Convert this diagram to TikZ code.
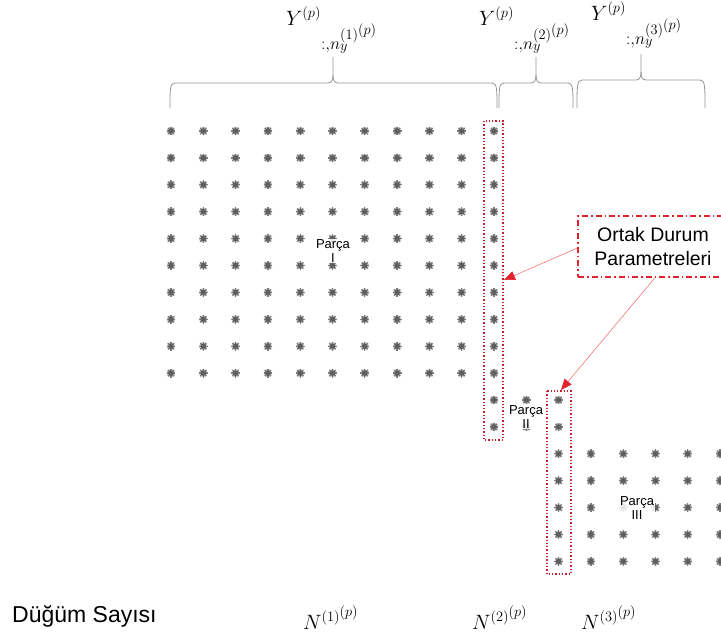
\documentclass[tikz,border=0pt]{standalone}
\usepackage{fontspec}
\setmainfont{Liberation Sans}
\usetikzlibrary{arrows.meta}

\definecolor{dotgray}{RGB}{95,95,95}
\definecolor{halogray}{RGB}{200,200,200}
\definecolor{bracegray}{RGB}{150,150,150}
\definecolor{markred}{RGB}{200,30,45}
\definecolor{calloutred}{RGB}{225,35,45}
\definecolor{linkred}{RGB}{240,120,120}

\tikzset{
  gridpt/.pic={
    \fill[halogray] (0,0) circle (4.3);
    \foreach \a in {0,45,90,135}{\draw[dotgray!80,line width=1.3] (\a:4.4) -- (\a+180:4.4);}
    \fill[dotgray] (0,0) circle (2.8);
  },
  curly/.style={draw=bracegray, line width=0.8},
  sharedbox/.style={draw=markred, dotted, line width=1.3},
  calloutbox/.style={draw=calloutred, line width=1.3,
    dash pattern=on 6pt off 3pt on 1.5pt off 3pt,
    minimum width=150, minimum height=61, align=center,
    font=\fontsize{19.5}{23.5}\selectfont},
  link/.style={draw=linkred, line width=0.6,
    -{Triangle[length=11pt,width=9pt,color=calloutred,fill=calloutred]}},
  partlabel/.style={font=\fontsize{13}{13.5}\selectfont, align=center,
    fill=white, fill opacity=0.85, text opacity=1, inner sep=1.2},
  mathlabel/.style={anchor=base west, inner sep=0},
}

% curly bracket over a block: left x, tip x, right x, level y
\newcommand\curlyover[4]{%
  \draw[curly] (#1,108) .. controls (#1,#4+6) and (#1,#4) .. (#1+5,#4)
    -- (#2-5,#4) .. controls (#2-1,#4) and (#2,#4-3) .. (#2,#4-10) -- (#2,#4-26)
    -- (#2,#4-10) .. controls (#2,#4-3) and (#2+1,#4) .. (#2+5,#4)
    -- (#3-5,#4) .. controls (#3,#4) and (#3,#4+6) .. (#3,108);}

% column block label Y^{(p)} with its lowered index
\newcommand\blocklabel[1]{$Y^{(p)}$\raisebox{-24pt}{\fontsize{19}{22}\selectfont
  $\mathord{:}\mathord{,}n_y^{(#1)^{\scriptstyle(p)}}$}}

\begin{document}
\begin{tikzpicture}[x=1pt,y=-1pt]
\useasboundingbox (0,0) rectangle (721,632);
\clip (0,0) rectangle (721,632);

% node grid of the three parts
\foreach \c in {0,...,9}
  \foreach \r in {0,...,9}
    \pic at ({171+32.3*\c},{131+26.9*\r}) {gridpt};
\foreach \r in {0,...,11}
  \pic at ({171+32.3*10},{131+26.9*\r}) {gridpt};
\foreach \r in {10,11}
  \pic at ({171+32.3*11},{131+26.9*\r}) {gridpt};
\foreach \r in {10,...,16}
  \pic at ({171+32.3*12},{131+26.9*\r}) {gridpt};
\foreach \c in {13,...,17}
  \foreach \r in {12,...,16}
    \pic at ({171+32.3*\c},{131+26.9*\r}) {gridpt};

% shared columns
\draw[sharedbox] (484,121) rectangle (503,440);
\draw[sharedbox] (547,391) rectangle (571,574);

% part labels
\node[partlabel] (partI) at (333,251) {Parça\\I};
\node[partlabel] (partII) at (526,417) {Parça\\II};
\node[partlabel] (partIII) at (637,508) {Parça\\III};

% brackets and column block labels
\curlyover{170}{333}{497}{83}
\curlyover{499}{536}{573}{83}
\curlyover{577}{641}{705}{80}

\node[mathlabel, font=\fontsize{22}{26}\selectfont] (block1) at (286,25) {\blocklabel{1}};
\node[mathlabel, font=\fontsize{22}{26}\selectfont] (block2) at (479,25) {\blocklabel{2}};
\node[mathlabel, font=\fontsize{22}{26}\selectfont] (block3) at (591,20) {\blocklabel{3}};

% callout
\node[calloutbox] (common) at (653,246.5) {Ortak Durum\\Parametreleri};
\coordinate (tipA) at (504,280);
\coordinate (tipB) at (561,390);
\draw[link] ([yshift=-1.5pt]common.west) -- (tipA);
\draw[link] ([xshift=2pt]common.south) -- (tipB);

% node counts
\node[anchor=base west, inner sep=0, font=\fontsize{23}{27}\selectfont] (count) at (12,622) {Düğüm Sayısı};
\node[mathlabel, font=\fontsize{20}{24}\selectfont] (n1) at (303,629) {$N^{(1)^{\scriptstyle(p)}}$};
\node[mathlabel, font=\fontsize{20}{24}\selectfont] (n2) at (472,629) {$N^{(2)^{\scriptstyle(p)}}$};
\node[mathlabel, font=\fontsize{20}{24}\selectfont] (n3) at (581,629) {$N^{(3)^{\scriptstyle(p)}}$};
\end{tikzpicture}
\end{document}
